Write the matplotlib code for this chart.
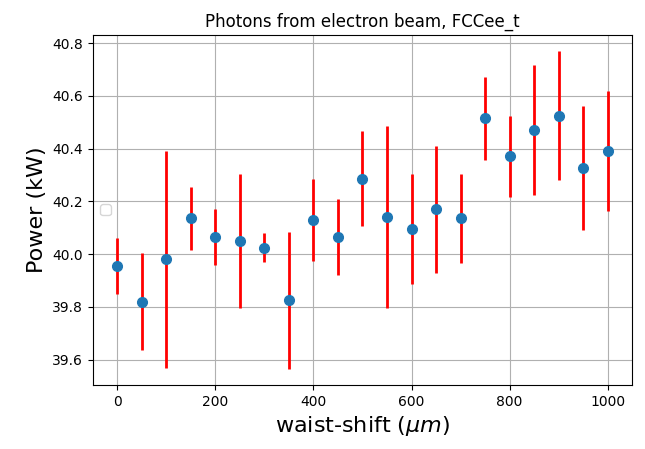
import matplotlib
matplotlib.use('Agg')
import matplotlib.pyplot as plt

waist_shift = [0, 50, 100, 150, 200, 250, 300, 350, 400, 450, 500,
               550, 600, 650, 700, 750, 800, 850, 900, 950, 1000]
power = [39.955, 39.82, 39.98, 40.135, 40.065, 40.05, 40.025, 39.825, 40.13, 40.065, 40.285,
         40.14, 40.095, 40.17, 40.135, 40.515, 40.37, 40.47, 40.525, 40.325, 40.39]
power_err = [0.105, 0.185, 0.41, 0.12, 0.105, 0.255, 0.055, 0.26, 0.155, 0.145, 0.18,
             0.345, 0.21, 0.24, 0.17, 0.158, 0.155, 0.245, 0.245, 0.235, 0.228]

fig = plt.figure(figsize=(6.45, 4.49), dpi=100)
ax = fig.add_axes([0.144, 0.143, 0.836, 0.779])

ax.errorbar(waist_shift, power, yerr=power_err, fmt='o', color='C0',
            ecolor='red', elinewidth=2, markersize=7, zorder=3)
ax.grid(True)
ax.legend(loc='center left')
ax.set_title('Photons from electron beam, FCCee_t')
ax.set_xlabel(r'waist-shift ($\mu m$)', fontsize=16)
ax.set_ylabel('Power (kW)', fontsize=16)

fig.savefig('out.png', dpi=100)
